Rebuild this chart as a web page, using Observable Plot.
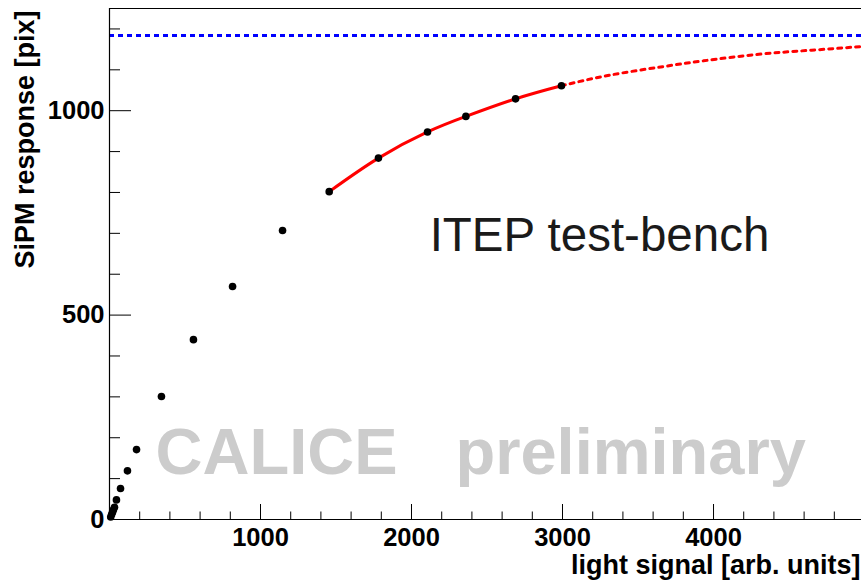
<!DOCTYPE html>
<html>
<head>
<meta charset="utf-8">
<script src="https://cdn.jsdelivr.net/npm/d3@7"></script>
<script src="https://cdn.jsdelivr.net/npm/@observablehq/plot@0.6"></script>
<style>
  html, body { margin: 0; padding: 0; background: #fff; }
  #chart svg { display: block; }
</style>
</head>
<body>
<div id="chart"></div>
<script>
// measured points
const lightSignal = [8, 14, 20, 26, 33, 46, 73, 119, 179, 344, 556, 815, 1146, 1455, 1781, 2106, 2360, 2689, 2993];
const sipmResponse = [6, 12, 18, 24, 30, 48, 76, 119, 171, 301, 440, 570, 707, 802, 884, 948, 986, 1029, 1061];

// fit curve: solid in the fit range, dotted extrapolation
const fitSolidX = [1455, 1781, 2106, 2360, 2689, 2993];
const fitSolidY = [802, 884, 948, 986, 1029, 1061];
const fitDotX = [2993, 3300, 3650, 3934, 4300, 4650, 4980];
const fitDotY = [1061, 1086, 1107, 1122, 1138, 1148, 1157];

// saturation level (number of pixels)
const nPixels = [1184];

// ticks
const xMajor = [1000, 2000, 3000, 4000];
const xMinor = [200, 400, 600, 800, 1200, 1400, 1600, 1800, 2200, 2400, 2600, 2800, 3200, 3400, 3600, 3800, 4200, 4400, 4600, 4800];
const yMajor = [0, 500, 1000];
const yMinor = [100, 200, 300, 400, 600, 700, 800, 900, 1100, 1200];

const pts = lightSignal.map((x, i) => ({x, y: sipmResponse[i]}));
const solid = fitSolidX.map((x, i) => ({x, y: fitSolidY[i]}));
const dotted = fitDotX.map((x, i) => ({x, y: fitDotY[i]}));

const W = 861, H = 582, mL = 109, mT = 8, mR = 0, mB = 63;
const pw = W - mL - mR, ph = H - mT - mB;

const chart = Plot.plot({
  width: W, height: H,
  marginLeft: mL, marginTop: mT, marginRight: mR, marginBottom: mB,
  style: {fontFamily: "'Liberation Sans', Arial, Helvetica, sans-serif", background: "#fff", color: "#000", overflow: "visible"},
  x: {domain: [0, 4980]},
  y: {domain: [0, 1250]},
  marks: [
    // watermark
    Plot.text(["CALICE"], {x: [305], y: [112], text: d => d, textAnchor: "start", lineAnchor: "bottom", fontSize: 65, fontWeight: "bold", fill: "#cccccc"}),
    Plot.text(["preliminary"], {x: [2291], y: [112], text: d => d, textAnchor: "start", lineAnchor: "bottom", fontSize: 65, fontWeight: "bold", fill: "#cccccc"}),
    Plot.text(["ITEP test-bench"], {x: [2120], y: [658], text: d => d, textAnchor: "start", lineAnchor: "bottom", fontSize: 47.5, fontWeight: "normal", fill: "#1a1a1a"}),
    // saturation line
    Plot.ruleY(nPixels, {stroke: "#0000ff", strokeWidth: 3, strokeDasharray: "5,4"}),
    // fit
    Plot.line(dotted, {x: "x", y: "y", curve: "natural", stroke: "#ff0000", strokeWidth: 3, strokeDasharray: "4,5"}),
    Plot.line(solid, {x: "x", y: "y", curve: "natural", stroke: "#ff0000", strokeWidth: 3}),
    // data
    Plot.dot(pts, {x: "x", y: "y", r: 3.8, fill: "#000", stroke: null}),
    // frame lines
    Plot.ruleX([0], {stroke: "#000", strokeWidth: 1.2}),
    Plot.ruleY([0, 1250], {stroke: "#000", strokeWidth: 1.2}),
    // ticks
    Plot.tickY(yMajor, {y: d => d, insetRight: pw - 22, stroke: "#000"}),
    Plot.tickY(yMinor, {y: d => d, insetRight: pw - 11, stroke: "#000"}),
    Plot.tickX(xMajor, {x: d => d, insetTop: ph - 15, stroke: "#000"}),
    Plot.tickX(xMinor, {x: d => d, insetTop: ph - 7.5, stroke: "#000"}),
    // tick labels
    Plot.axisY(yMajor, {tickSize: 0, tickPadding: 5, fontSize: 25.5, fontWeight: "bold", label: null, tickFormat: d => String(d)}),
    Plot.axisX(xMajor, {tickSize: 0, tickPadding: 8, fontSize: 25.5, fontWeight: "bold", label: null, tickFormat: d => String(d)}),
    // axis titles
    Plot.text(["light signal [arb. units]"], {frameAnchor: "bottom-right", text: d => d, textAnchor: "end", lineAnchor: "bottom", dy: 54, dx: -1, fontSize: 27, fontWeight: "bold", fill: "#000"}),
    Plot.text(["SiPM response [pix]"], {frameAnchor: "top-left", text: d => d, rotate: -90, textAnchor: "end", lineAnchor: "bottom", dx: -76, dy: 2, fontSize: 27, fontWeight: "bold", fill: "#000"})
  ]
});
document.getElementById("chart").appendChild(chart);
</script>
</body>
</html>
